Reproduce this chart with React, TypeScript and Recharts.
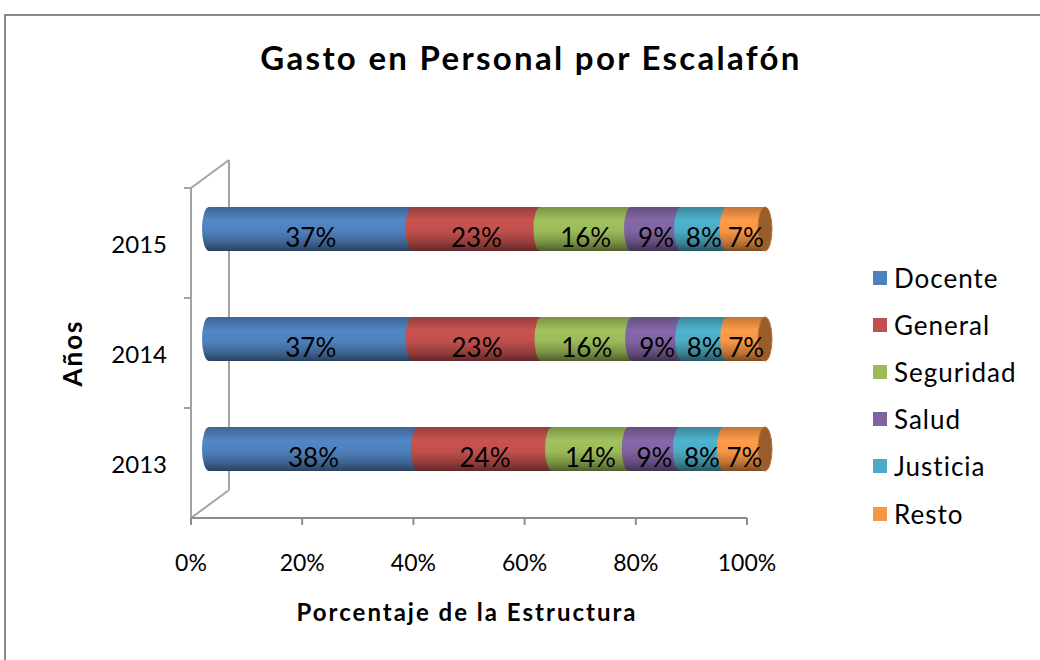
import { Bar, BarChart, LabelList, XAxis, YAxis } from "recharts";

const YEARS = ["2013", "2014", "2015"];
const SERIES = ["Docente", "General", "Seguridad", "Salud", "Justicia", "Resto"];
const COLORS = ["#4F81BD", "#C0504D", "#9BBB59", "#8064A2", "#4BACC6", "#F79646"];

// share of each escalafón per year (2013, 2014, 2015)
const DOCENTE = [37.6, 36.6, 36.6];
const GENERAL = [24.1, 23.2, 23.0];
const SEGURIDAD = [13.8, 16.3, 16.3];
const SALUD = [9.2, 9.0, 9.0];
const JUSTICIA = [7.9, 8.1, 8.2];
const RESTO = [7.4, 6.8, 6.9];
const X_TICKS = [0, 20, 40, 60, 80, 100];

const VALUES = [DOCENTE, GENERAL, SEGURIDAD, SALUD, JUSTICIA, RESTO];

const rows = YEARS.map((year, i) => {
  const row: Record<string, string | number> = { year };
  SERIES.forEach((s, k) => {
    row[s] = VALUES[k][i];
  });
  return row;
});

const FONT = "Lato, 'Open Sans', sans-serif";
const CHART_W = 1040;
const CHART_H = 660;
const PLOT = { left: 191, right: 747, top: 188, bottom: 518 };
const X_AXIS_H = 60;
const Y_AXIS_W = 100;
const WALL_DX = 38;
const WALL_DY = -28;
const BAR_DX = 18;
const BAR_DY = -14;
const CAP_RX = 7;
const FRAME = "#a3a3a3";

function shade(hex: string, f: number) {
  const n = parseInt(hex.slice(1), 16);
  const r = Math.round(((n >> 16) & 255) * f);
  const g = Math.round(((n >> 8) & 255) * f);
  const b = Math.round((n & 255) * f);
  return `rgb(${Math.min(r, 255)},${Math.min(g, 255)},${Math.min(b, 255)})`;
}

function cylinder(i: number) {
  return (props: any) => {
    const { x, y, width, height } = props;
    if (!width || width <= 0) return <g />;
    const bx = x + BAR_DX;
    const by = y + BAR_DY;
    const ry = height / 2;
    const d = `M${bx},${by} L${bx + width},${by} L${bx + width},${by + height} L${bx},${by + height} A${CAP_RX},${ry} 0 0 1 ${bx},${by} Z`;
    return (
      <g>
        <path d={d} fill={`url(#cyl-${i})`} />
        {i === SERIES.length - 1 && (
          <ellipse
            cx={bx + width}
            cy={by + ry}
            rx={CAP_RX}
            ry={ry}
            fill={shade(COLORS[i], 0.62)}
            stroke={shade(COLORS[i], 0.75)}
            strokeWidth={1}
          />
        )}
      </g>
    );
  };
}

function pctLabel(props: any) {
  const vb = props.viewBox ?? props;
  const { x, y, width, height } = vb;
  return (
    <text
      x={x + width / 2 + BAR_DX}
      y={y + height / 2 + BAR_DY + 8}
      textAnchor="middle"
      dominantBaseline="central"
      fontSize={26}
      fontFamily={FONT}
      fill="#000"
    >
      {Math.round(Number(props.value))}%
    </text>
  );
}

function XTick(props: any) {
  const { x, payload } = props;
  return (
    <text
      x={x}
      y={PLOT.bottom + 44}
      textAnchor="middle"
      dominantBaseline="central"
      fontSize={23}
      fontFamily={FONT}
      fill="#000"
    >
      {payload.value}%
    </text>
  );
}

function YTick(props: any) {
  const { y, payload } = props;
  return (
    <text
      x={PLOT.left - 24}
      y={y}
      textAnchor="end"
      dominantBaseline="central"
      fontSize={24}
      fontFamily={FONT}
      fill="#000"
    >
      {payload.value}
    </text>
  );
}

export default function App() {
  const band = (PLOT.bottom - PLOT.top) / YEARS.length;
  const wallX = PLOT.left + WALL_DX;

  return (
    <div
      style={{
        position: "absolute",
        left: 0,
        top: 0,
        width: CHART_W,
        height: CHART_H,
        overflow: "hidden",
        background: "#fff",
        fontFamily: FONT,
      }}
    >
      <div
        style={{
          position: "absolute",
          left: 4,
          top: 14,
          width: 1200,
          height: 800,
          border: "2px solid #8a8a8a",
        }}
      />

      {/* 3D wall behind the bars */}
      <svg width={CHART_W} height={CHART_H} style={{ position: "absolute", left: 0, top: 0 }}>
        <line x1={PLOT.left} y1={PLOT.top} x2={PLOT.left} y2={PLOT.bottom} stroke={FRAME} strokeWidth={2} />
        <line x1={wallX} y1={PLOT.top + WALL_DY} x2={wallX} y2={PLOT.bottom + WALL_DY} stroke={FRAME} strokeWidth={2} />
        <line x1={PLOT.left} y1={PLOT.top} x2={wallX} y2={PLOT.top + WALL_DY} stroke={FRAME} strokeWidth={2} />
        <line x1={PLOT.left} y1={PLOT.bottom} x2={wallX} y2={PLOT.bottom + WALL_DY} stroke={FRAME} strokeWidth={2} />
        {YEARS.map((_, i) => (
          <line
            key={i}
            x1={PLOT.left - 7}
            x2={PLOT.left}
            y1={PLOT.top + i * band}
            y2={PLOT.top + i * band}
            stroke={FRAME}
            strokeWidth={2}
          />
        ))}
      </svg>

      <div style={{ position: "absolute", left: 0, top: 0 }}>
        <BarChart
          width={CHART_W}
          height={CHART_H}
          data={rows}
          layout="vertical"
          margin={{
            top: PLOT.top,
            right: CHART_W - PLOT.right,
            bottom: CHART_H - PLOT.bottom - X_AXIS_H,
            left: PLOT.left - Y_AXIS_W,
          }}
        >
          <defs>
            {COLORS.map((c, i) => (
              <linearGradient key={c} id={`cyl-${i}`} x1="0" y1="0" x2="0" y2="1">
                <stop offset="0%" stopColor={shade(c, 0.78)} />
                <stop offset="30%" stopColor={shade(c, 1.04)} />
                <stop offset="55%" stopColor={c} />
                <stop offset="80%" stopColor={shade(c, 0.78)} />
                <stop offset="100%" stopColor={shade(c, 0.5)} />
              </linearGradient>
            ))}
          </defs>
          <XAxis
            type="number"
            domain={[0, 100]}
            ticks={X_TICKS}
            height={X_AXIS_H}
            axisLine={{ stroke: "#8c8c8c", strokeWidth: 2 }}
            tickLine={{ stroke: "#8c8c8c", strokeWidth: 2 }}
            tickSize={7}
            tick={<XTick />}
            interval={0}
          />
          <YAxis
            type="category"
            dataKey="year"
            reversed
            width={Y_AXIS_W}
            axisLine={false}
            tickLine={false}
            tick={<YTick />}
          />
          {SERIES.map((s, i) => (
            <Bar
              key={s}
              dataKey={s}
              stackId="a"
              fill={COLORS[i]}
              barSize={44}
              shape={cylinder(i)}
              isAnimationActive={false}
            >
              <LabelList dataKey={s} content={pctLabel} />
            </Bar>
          ))}
        </BarChart>
      </div>

      <div
        style={{
          position: "absolute",
          left: 0,
          width: 1062,
          top: 37,
          textAlign: "center",
          fontSize: 33,
          letterSpacing: 2.3,
          fontWeight: 700,
          color: "#000",
        }}
      >
        Gasto en Personal por Escalafón
      </div>

      <div
        style={{
          position: "absolute",
          left: 72,
          top: 353,
          transform: "translate(-50%, -50%) rotate(-90deg)",
          fontSize: 26,
          letterSpacing: 2,
          fontWeight: 700,
          whiteSpace: "nowrap",
        }}
      >
        Años
      </div>

      <div
        style={{
          position: "absolute",
          left: 0,
          width: 934,
          top: 597,
          textAlign: "center",
          fontSize: 24,
          letterSpacing: 2,
          fontWeight: 700,
        }}
      >
        Porcentaje de la Estructura
      </div>

      <div style={{ position: "absolute", left: 873, top: 254 }}>
        {SERIES.map((s, i) => (
          <div key={s} style={{ display: "flex", alignItems: "center", height: 47.2 }}>
            <div style={{ width: 14, height: 14, background: COLORS[i], marginRight: 7 }} />
            <span style={{ fontSize: 26, letterSpacing: 1, lineHeight: "30px" }}>{s}</span>
          </div>
        ))}
      </div>
    </div>
  );
}
